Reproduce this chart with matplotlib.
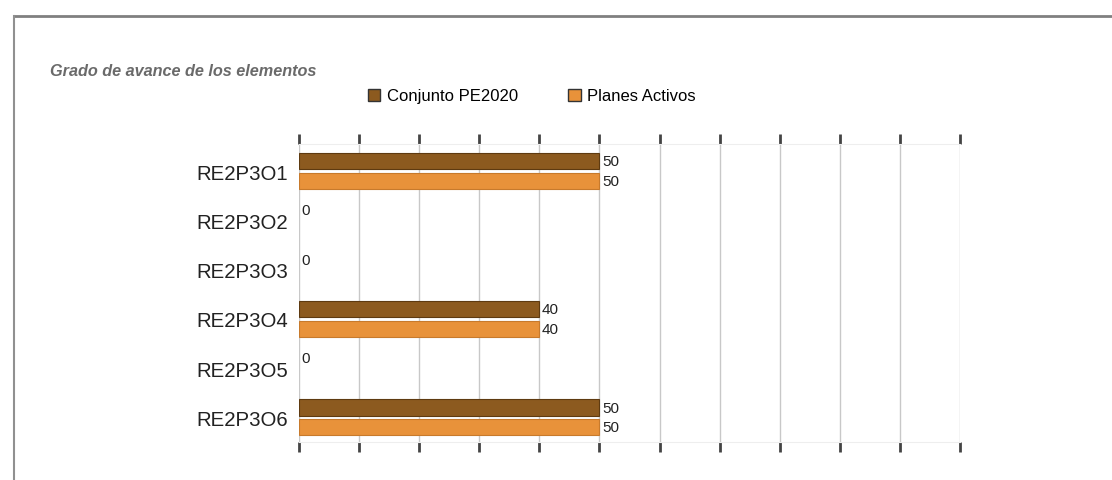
import numpy as np
import matplotlib.pyplot as plt
from matplotlib.lines import Line2D
from matplotlib.patches import Patch

plt.rcParams['font.family'] = ['Liberation Sans', 'DejaVu Sans']

# datos
categorias = ['RE2P3O1', 'RE2P3O2', 'RE2P3O3', 'RE2P3O4', 'RE2P3O5', 'RE2P3O6']
conjunto = [50, 0, 0, 40, 0, 50]
planes = [50, 0, 0, 40, 0, 50]
series = ['Conjunto PE2020', 'Planes Activos']

c_oscuro = '#8c5a1f'
c_claro = '#e8923a'

fig = plt.figure(figsize=(11.12, 4.81), dpi=100)
ax = fig.add_axes([299 / 1112, 1 - 443 / 481, (960 - 299) / 1112, (443 - 145) / 481])

y = np.arange(len(categorias))
h = 0.33
# sin borde en las barras de valor 0
lw1 = [0.8 if v > 0 else 0 for v in conjunto]
lw2 = [0.8 if v > 0 else 0 for v in planes]
ax.barh(y - 0.2, conjunto, height=h, color=c_oscuro, edgecolor='#5e3a10', linewidth=lw1, zorder=3)
ax.barh(y + 0.2, planes, height=h, color=c_claro, edgecolor='#c77a2c', linewidth=lw2, zorder=3)

# etiquetas de valor
for i in range(len(categorias)):
    ax.text(conjunto[i] + 0.4, y[i] - 0.2, str(conjunto[i]), fontsize=11,
            va='center', ha='left', color='#222222')
    if planes[i] != 0:
        ax.text(planes[i] + 0.4, y[i] + 0.2, str(planes[i]), fontsize=11,
                va='center', ha='left', color='#222222')

ax.set_xlim(0, 110)
ax.set_ylim(5.5, -0.55)
ax.set_xticks(np.arange(0, 111, 10))
ax.set_yticks(y)
ax.set_yticklabels(categorias, fontsize=14.7, color='#222222')
ax.tick_params(axis='y', length=0, pad=8)
ax.tick_params(axis='x', which='both', top=True, bottom=True, direction='out',
               length=7, width=2, color='#444444', labelbottom=False, labeltop=False)
ax.grid(axis='x', color='#c8c8c8', linewidth=1, zorder=0)
for s in ['left', 'right']:
    ax.spines[s].set_visible(False)
for s in ['top', 'bottom']:
    ax.spines[s].set_color('#eeeeee')

# titulo y leyenda
fig.text(50 / 1112, 1 - 72 / 481, 'Grado de avance de los elementos', fontsize=11.7,
         fontweight='bold', fontstyle='italic', color='#6a6a6a', va='center')
handles = [Patch(facecolor=c_oscuro, edgecolor='#333333'),
           Patch(facecolor=c_claro, edgecolor='#333333')]
fig.legend(handles, series, loc='center', bbox_to_anchor=(532 / 1112, 1 - 97 / 481),
           ncol=2, frameon=False, fontsize=12, handlelength=0.75, handleheight=0.75,
           handletextpad=0.4, columnspacing=3)

# marco
fig.add_artist(Line2D([14 / 1112, 1], [1 - 17 / 481] * 2, color='#808080', lw=2))
fig.add_artist(Line2D([14 / 1112] * 2, [0, 1 - 17 / 481], color='#909090', lw=1.5))

plt.savefig('out.png', dpi=100)
